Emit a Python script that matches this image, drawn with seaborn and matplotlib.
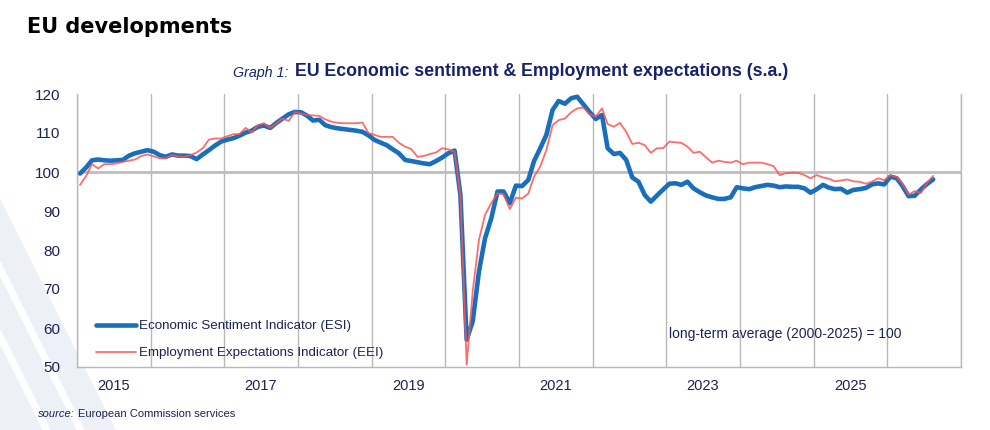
import numpy as np
import pandas as pd
import seaborn as sns
import matplotlib.pyplot as plt
import matplotlib.dates as mdates
from matplotlib.patches import Polygon

# monthly values, Jan 2015 onwards
esi = [
    99.6, 101.2, 103.0, 103.2, 103.0, 102.9, 103.0, 103.1, 104.2, 104.8, 105.2, 105.6,
    105.2, 104.3, 103.9, 104.5, 104.2, 104.2, 104.1, 103.3, 104.5, 105.6, 106.8, 107.8,
    108.3, 108.7, 109.3, 110.1, 110.6, 111.6, 111.9, 111.3, 112.6, 113.7, 114.8, 115.4,
    115.3, 114.4, 113.2, 113.4, 112.0, 111.5, 111.2, 111.0, 110.8, 110.6, 110.3, 109.4,
    108.2, 107.5, 106.9, 105.8, 104.8, 103.1, 102.8, 102.5, 102.2, 102.0, 102.8, 103.7,
    104.8, 105.5, 94.1, 57.0, 61.7, 74.5, 83.0, 88.1, 95.0, 95.0, 92.0, 96.5,
    96.4, 98.0, 102.8, 106.1, 109.5, 115.9, 118.2, 117.5, 118.9, 119.3, 117.3, 115.4,
    113.6, 114.6, 106.1, 104.6, 104.9, 103.1, 98.6, 97.5, 94.1, 92.4, 94.0, 95.5,
    97.0, 97.1, 96.7, 97.5, 95.8, 94.8, 94.0, 93.5, 93.1, 93.1, 93.5, 96.1,
    95.8, 95.6, 96.1, 96.4, 96.7, 96.5, 96.1, 96.3, 96.2, 96.2, 95.8, 94.7,
    95.6, 96.7, 96.0, 95.6, 95.7, 94.7, 95.4, 95.6, 95.9, 96.8, 97.1, 96.8,
    98.8, 98.4, 96.5, 93.8, 93.9, 95.5, 96.9, 98.1,
]
eei = [
    96.7, 99.0, 102.0, 100.9, 102.0, 102.0, 102.2, 102.6, 102.9, 103.2, 104.1, 104.5,
    104.0, 103.5, 103.5, 104.4, 104.0, 103.9, 104.3, 105.0, 106.1, 108.3, 108.6, 108.6,
    109.2, 109.7, 109.7, 111.3, 110.2, 112.0, 112.5, 111.3, 112.5, 113.7, 113.1, 115.4,
    115.0, 114.6, 114.5, 114.4, 113.5, 112.9, 112.6, 112.5, 112.5, 112.5, 112.7, 110.0,
    109.5, 109.0, 109.0, 109.0, 107.5, 106.5, 105.9, 103.9, 104.1, 104.6, 105.0, 106.1,
    105.8, 105.2, 94.0, 50.6, 69.4, 82.6, 89.0, 92.0, 94.5, 94.3, 90.5, 93.4,
    93.2, 94.5, 98.8, 101.4, 105.6, 112.0, 113.3, 113.7, 115.3, 116.3, 116.5, 114.8,
    114.2, 116.3, 112.3, 111.6, 112.6, 110.3, 107.2, 107.5, 106.9, 104.9, 106.1, 106.1,
    107.8, 107.6, 107.5, 106.5, 104.9, 105.2, 103.8, 102.4, 102.9, 102.6, 102.4, 102.9,
    102.0, 102.4, 102.4, 102.4, 102.0, 101.5, 99.2, 99.7, 99.8, 99.8, 99.2, 98.4,
    99.2, 98.6, 98.3, 97.6, 97.8, 98.1, 97.6, 97.5, 97.0, 97.5, 98.4, 97.9,
    99.2, 98.7, 97.0, 94.2, 95.1, 94.6, 97.2, 99.0,
]
year_labels = ["2015", "2017", "2019", "2021", "2023", "2025"]
y_ticks = [50, 60, 70, 80, 90, 100, 110, 120]

dates = pd.date_range("2015-01-01", periods=len(esi), freq="MS") + pd.Timedelta(days=15)
df = pd.DataFrame({"date": dates, "ESI": esi, "EEI": eei})

W, H = 990, 430
txt = "#1c2353"
navy = "#14236b"

sns.set_style("white")
plt.rcParams["font.family"] = ["Liberation Sans", "DejaVu Sans"]

fig = plt.figure(figsize=(W / 100, H / 100), dpi=100)

def fx(px):
    return px / W

def fy(py):
    return 1 - py / H

# faint diagonal decoration bottom-left, behind everything
band = "#eef0f8"
fig.patches.append(Polygon([(fx(0), fy(200)), (fx(115), fy(430)), (fx(0), fy(430))],
                           closed=True, transform=fig.transFigure, color=band, zorder=-2))
for y0 in [262, 330]:
    pts = [(0, y0), ((430 - y0) / 2, 430), ((430 - y0 - 13) / 2, 430), (0, y0 + 13)]
    fig.patches.append(Polygon([(fx(a), fy(b)) for a, b in pts], closed=True,
                               transform=fig.transFigure, color="white", zorder=-1))

ax = fig.add_axes([fx(77), fy(367), fx(961 - 77), (367 - 94) / H])
ax.set_zorder(2)
ax.set_facecolor("white")

sns.lineplot(data=df, x="date", y="ESI", ax=ax, color="#1a6fbd", linewidth=3.3,
             label="Economic Sentiment Indicator (ESI)")
sns.lineplot(data=df, x="date", y="EEI", ax=ax, color="#ff5252", linewidth=1.3, alpha=0.85,
             label="Employment Expectations Indicator (EEI)")

ax.axhline(100, color="#bdbdbd", linewidth=2, zorder=1)

ax.set_xlim(pd.Timestamp("2015-01-01"), pd.Timestamp("2027-01-01"))
ax.set_ylim(50, 120)
ax.set_yticks(y_ticks)
ax.set_yticklabels([str(v) for v in y_ticks])

ax.xaxis.set_major_locator(mdates.YearLocator(1))
ax.xaxis.set_major_formatter(plt.NullFormatter())
lab_pos = [mdates.date2num(pd.Timestamp(f"{y}-07-01")) for y in year_labels]
ax.xaxis.set_minor_locator(plt.FixedLocator(lab_pos))
ax.xaxis.set_minor_formatter(plt.FixedFormatter(year_labels))
ax.tick_params(axis="x", which="both", length=0, pad=9, labelsize=10.5, labelcolor=txt)
ax.tick_params(axis="y", length=0, pad=12, labelsize=11, labelcolor=txt)
ax.grid(axis="x", which="major", color="#b8b8b8", linewidth=1.0)
ax.set_xlabel("")
ax.set_ylabel("")

ax.spines["top"].set_visible(False)
for s in ["left", "right", "bottom"]:
    ax.spines[s].set_color("#b8b8b8")
    ax.spines[s].set_linewidth(1.0)

leg = ax.legend(loc="upper left", bbox_to_anchor=(fx(96), fy(320)),
                bbox_transform=fig.transFigure, frameon=False, fontsize=9.6,
                handlelength=3.0, handletextpad=0.25, labelspacing=1.1,
                borderpad=0, borderaxespad=0)
for t in leg.get_texts():
    t.set_color(txt)

fig.text(fx(669), fy(334), "long-term average (2000-2025) = 100", fontsize=10,
         color=txt, va="center", ha="left")

fig.text(fx(27), fy(27), "EU developments", fontsize=15, fontweight="bold",
         family=["DejaVu Sans"], color="black", va="center", ha="left")
fig.text(fx(288), fy(73), "Graph 1:", fontsize=10.3, style="italic", color=navy,
         va="center", ha="right")
fig.text(fx(295), fy(72), "EU Economic sentiment & Employment expectations (s.a.)",
         fontsize=12.8, fontweight="bold", color=navy, va="center", ha="left")

src = fig.text(fx(38), fy(414), "source:", fontsize=8, style="italic", color=txt,
               va="center", ha="left")
r = fig.canvas.get_renderer()
x_end = src.get_window_extent(renderer=r).x1
fig.text((x_end + 3) / W, fy(414), "European Commission services", fontsize=8, color=txt,
         va="center", ha="left")

fig.savefig("out.png", dpi=100)
